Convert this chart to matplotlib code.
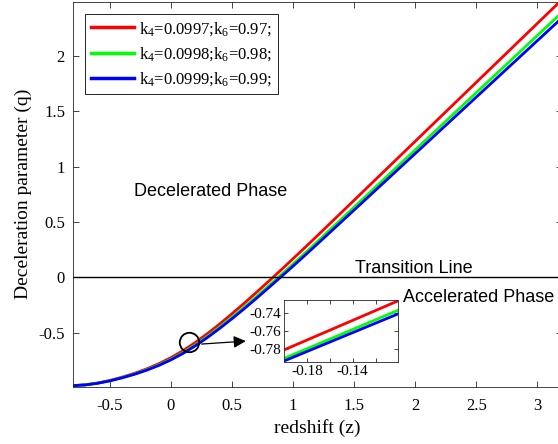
import numpy as np
import matplotlib
matplotlib.use('Agg')
import matplotlib.pyplot as plt

plt.rcParams['font.family'] = 'serif'
plt.rcParams['font.serif'] = ['Liberation Serif', 'DejaVu Serif']
plt.rcParams['mathtext.fontset'] = 'custom'
plt.rcParams['mathtext.rm'] = 'Liberation Serif'
plt.rcParams['mathtext.it'] = 'Liberation Serif:italic'

# redshift grid and deceleration parameter for the three parameter sets
z = [-0.8, -0.7, -0.6, -0.5, -0.4, -0.3, -0.2, -0.1, 0.0, 0.1, 0.2,
     0.3, 0.4, 0.5, 0.6, 0.7, 0.8, 0.9, 1.0, 1.1, 1.2,
     1.4, 1.6, 1.8, 2.0, 2.2, 2.4, 2.6, 2.8, 3.0, 3.2]
q_red = [-0.98, -0.9725, -0.9565, -0.933, -0.9035, -0.869, -0.829, -0.782, -0.727, -0.663, -0.590,
         -0.509, -0.422, -0.330, -0.235, -0.137, -0.037, 0.064, 0.167, 0.271, 0.376,
         0.589, 0.802, 1.015, 1.228, 1.441, 1.654, 1.867, 2.080, 2.293, 2.506]
q_green = [-0.98, -0.973, -0.958, -0.936, -0.9077, -0.8753, -0.8374, -0.7932, -0.741, -0.6805, -0.611,
           -0.5335, -0.450, -0.3615, -0.270, -0.1748, -0.0776, 0.0206, 0.1201, 0.2213, 0.3235,
           0.5302, 0.7369, 0.9436, 1.1503, 1.357, 1.5637, 1.7704, 1.9771, 2.1838, 2.3905]
q_blue = [-0.98, -0.9735, -0.9585, -0.937, -0.9095, -0.878, -0.841, -0.798, -0.747, -0.688, -0.620,
          -0.544, -0.462, -0.375, -0.285, -0.191, -0.095, 0.002, 0.100, 0.200, 0.301,
          0.505, 0.709, 0.913, 1.117, 1.321, 1.525, 1.729, 1.933, 2.137, 2.341]

labels = [r'k$_4$=0.0997;k$_6$=0.97;',
          r'k$_4$=0.0998;k$_6$=0.98;',
          r'k$_4$=0.0999;k$_6$=0.99;']
colors = ['#ff0000', '#00ff00', '#0000ff']

# zoomed view
z_in = [-0.2, -0.1]
q_in_red = [-0.7805, -0.726]
q_in_green = [-0.790, -0.7365]
q_in_blue = [-0.7928, -0.7405]

xticks = [-0.5, 0, 0.5, 1, 1.5, 2, 2.5, 3]
xticklabels = ['-0.5', '0', '0.5', '1', '1.5', '2', '2.5', '3']
yticks = [-0.5, 0, 0.5, 1, 1.5, 2]
yticklabels = ['-0.5', '0', '0.5', '1', '1.5', '2']

zoom_spot = (0.145, -0.584)
arrow_tail = (0.228, -0.606)
arrow_head = (0.635, -0.576)

axcol = '#262626'
serif = 'Liberation Serif'
sans = 'Liberation Sans'

fig = plt.figure(figsize=(5.58, 4.44), dpi=100)
ax = fig.add_axes([0.1314, 0.129, 0.8752, 0.8672])

for q, c, lab in zip([q_red, q_green, q_blue], colors, labels):
    ax.plot(z, q, color=c, lw=2.0, label=lab)
ax.axhline(0, color='k', lw=1.0)

ax.set_xlim(-0.8, 3.2)
ax.set_ylim(-0.99, 2.49)
ax.set_xticks(xticks, labels=xticklabels, family=serif)
ax.set_yticks(yticks, labels=yticklabels, family=serif)
ax.tick_params(direction='in', top=True, right=True, length=4, width=0.6,
               labelsize=12, colors=axcol, labelcolor='k')
ax.tick_params(axis='x', pad=8)
ax.tick_params(axis='y', pad=6)
for s in ax.spines.values():
    s.set_color(axcol)
    s.set_linewidth(0.6)
ax.set_xlabel('redshift (z)', fontsize=14, labelpad=4, family=serif)
ax.set_ylabel('Deceleration parameter (q)', fontsize=14, labelpad=5, family=serif)

leg = ax.legend(loc='upper left', bbox_to_anchor=(0.024, 0.968), borderaxespad=0,
                fontsize=12, handlelength=2.6, handletextpad=0.3, labelspacing=0.45,
                borderpad=0.35, fancybox=False, framealpha=1, edgecolor='k')
leg.get_frame().set_linewidth(0.6)
for h in leg.legend_handles:
    h.set_linewidth(2.5)

ax.text(-0.30, 0.777, 'Decelerated Phase', family=sans, fontsize=13,
        va='center', ha='left')
ax.text(1.504, 0.083, 'Transition Line', family=sans, fontsize=13,
        va='center', ha='left')
ax.text(1.90, -0.188, 'Accelerated Phase', family=sans, fontsize=13,
        va='center', ha='left')

ax.plot(*zoom_spot, 'o', ms=14, mfc='none', mec='k', mew=1.3)
ax.annotate('', xy=arrow_head, xytext=arrow_tail,
            arrowprops=dict(arrowstyle='-|>', color='k', lw=0.9, mutation_scale=18))

# inset
axi = fig.add_axes([0.5095, 0.184, 0.2043, 0.1403])
for q, c in zip([q_in_red, q_in_green, q_in_blue], colors):
    axi.plot(z_in, q, color=c, lw=2.0)
axi.set_xlim(-0.2, -0.1)
axi.set_ylim(-0.7944, -0.7252)
axi.set_xticks([-0.18, -0.16, -0.14, -0.12], labels=['-0.18', '', '-0.14', ''], family=serif)
axi.set_yticks([-0.78, -0.76, -0.74], labels=['-0.78', '-0.76', '-0.74'], family=serif)
axi.tick_params(direction='in', top=True, right=True, length=3, width=0.6,
                labelsize=11, colors=axcol, labelcolor='k', pad=2)
for s in axi.spines.values():
    s.set_color(axcol)
    s.set_linewidth(0.6)

fig.savefig('out.png', dpi=100)
